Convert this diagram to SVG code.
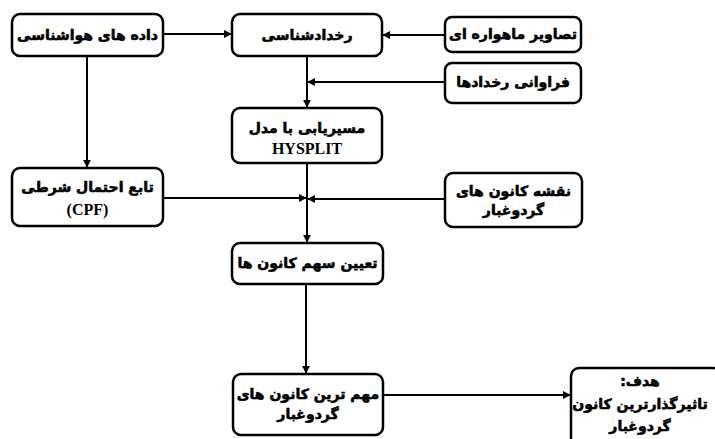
<svg xmlns="http://www.w3.org/2000/svg" width="715" height="439" viewBox="0 0 715 439">
<style>
.box{fill:#fff;stroke:#000;stroke-width:2.5}
.fa{font-family:"DejaVu Sans",sans-serif;font-weight:bold;font-size:14px;fill:#000;stroke:#000;stroke-width:0.6;text-anchor:middle;direction:rtl}
.en{font-family:"Liberation Serif",serif;font-weight:bold;font-size:16px;fill:#000;text-anchor:middle}
.ln{stroke:#000;stroke-width:2;fill:none}
</style>
<defs>
<marker id="ah" viewBox="0 0 10 10" refX="9" refY="5" markerWidth="4" markerHeight="4" orient="auto" markerUnits="strokeWidth">
<path d="M0,0 L10,5 L0,10 z" fill="#000"/>
</marker>
</defs>
<rect width="715" height="439" fill="#fff"/>
<g id="connectors">
<line class="ln" x1="163" y1="34" x2="231" y2="34" marker-end="url(#ah)"/>
<line class="ln" x1="445" y1="35" x2="383" y2="35" marker-end="url(#ah)"/>
<line class="ln" x1="307" y1="56" x2="307" y2="107" marker-end="url(#ah)"/>
<line class="ln" x1="445" y1="82" x2="308" y2="82" marker-end="url(#ah)"/>
<line class="ln" x1="87" y1="56" x2="87" y2="167" marker-end="url(#ah)"/>
<line class="ln" x1="307" y1="163" x2="307" y2="242" marker-end="url(#ah)"/>
<line class="ln" x1="163" y1="198" x2="306" y2="198" marker-end="url(#ah)"/>
<line class="ln" x1="445" y1="199" x2="308" y2="199" marker-end="url(#ah)"/>
<line class="ln" x1="306" y1="284" x2="306" y2="373" marker-end="url(#ah)"/>
<line class="ln" x1="383" y1="395" x2="570" y2="395" marker-end="url(#ah)"/>
</g>
<g id="n1"><rect class="box" x="12" y="14" width="151" height="42" rx="8"/><text class="fa" x="87.5" y="40">داده های هواشناسی</text></g>
<g id="n2"><rect class="box" x="232" y="14" width="150" height="42" rx="8"/><text class="fa" x="307" y="40">رخدادشناسی</text></g>
<g id="n3"><rect class="box" x="445" y="17" width="136" height="35" rx="7"/><text class="fa" x="513" y="39">تصاویر ماهواره ای</text></g>
<g id="n4"><rect class="box" x="445" y="63" width="136" height="40" rx="7"/><text class="fa" x="513" y="87">فراوانی رخدادها</text></g>
<g id="n5"><rect class="box" x="232" y="108" width="150" height="55" rx="8"/><text class="fa" x="307" y="133">مسیریابی با مدل</text><text class="en" x="307" y="154">HYSPLIT</text></g>
<g id="n6"><rect class="box" x="12" y="168" width="151" height="58" rx="8"/><text class="fa" x="87.5" y="192">تابع احتمال شرطی</text><text class="en" x="87.5" y="215">(CPF)</text></g>
<g id="n7"><rect class="box" x="232" y="243" width="151" height="41" rx="8"/><text class="fa" x="307.5" y="268">تعیین سهم کانون ها</text></g>
<g id="n8"><rect class="box" x="445" y="173" width="137" height="54" rx="8"/><text class="fa" x="513.5" y="196">نقشه کانون های</text><text class="fa" x="513.5" y="215">گردوغبار</text></g>
<g id="n9"><rect class="box" x="233" y="374" width="150" height="61" rx="8"/><text class="fa" x="308" y="399">مهم ترین کانون های</text><text class="fa" x="308" y="419">گردوغبار</text></g>
<g id="n10"><rect class="box" x="571" y="368" width="150" height="80" rx="8"/><text class="fa" x="640" y="386">هدف:</text><text class="fa" x="640" y="409">تاثیرگذارترین کانون</text><text class="fa" x="640" y="431">گردوغبار</text></g>
</svg>
